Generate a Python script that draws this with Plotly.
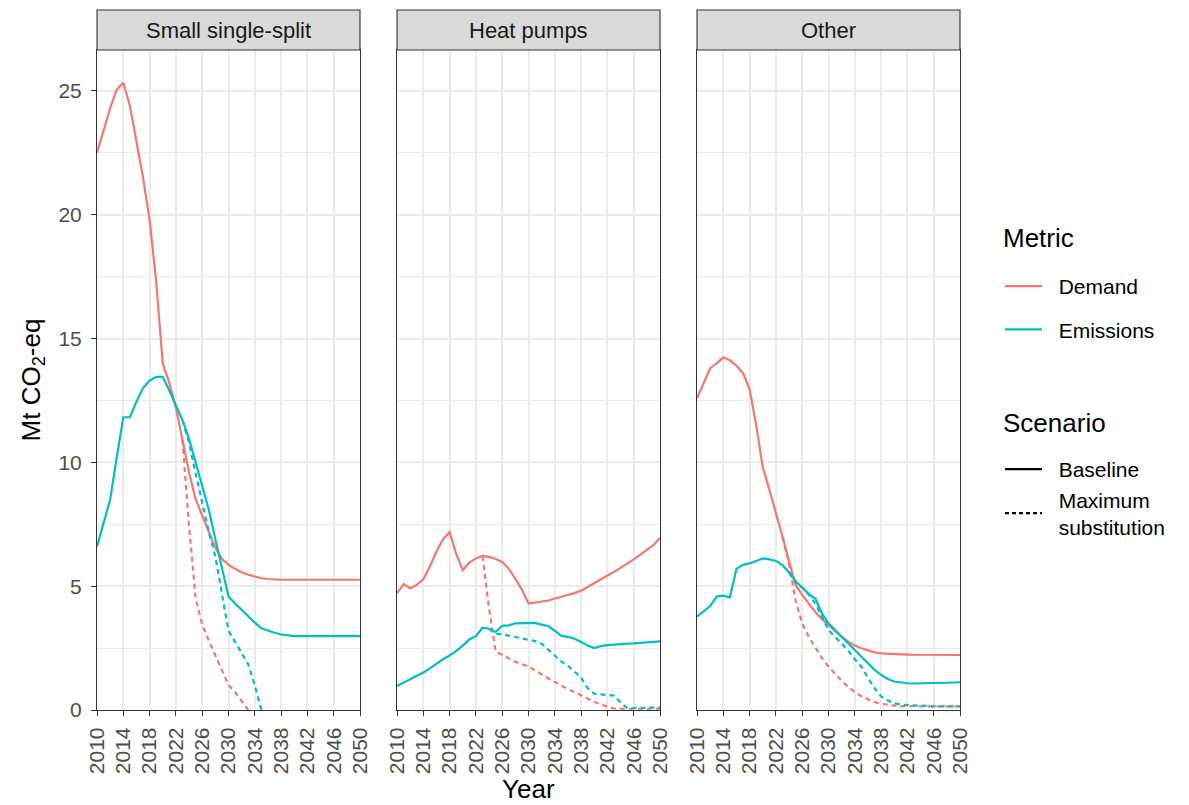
import plotly.graph_objects as go

# ---------------- data ----------------
years = list(range(2010, 2051))
panels = ["Small single-split", "Heat pumps", "Other"]
x_ticks = list(range(2010, 2051, 4))
x_tick_labels = [str(v) for v in x_ticks]
y_ticks = [0, 5, 10, 15, 20, 25]
y_tick_labels = ["0", "5", "10", "15", "20", "25"]

# Small single-split
ss_demand_base = [22.5, 23.4, 24.3, 25.05, 25.33, 24.4, 23.0, 21.5, 19.8, 17.3,
                  14.0, 13.2, 12.2, 10.9, 9.6, 8.5, 7.85, 7.2, 6.55, 6.1,
                  5.86, 5.7, 5.56, 5.46, 5.38, 5.32, 5.29, 5.27, 5.26, 5.26,
                  5.26, 5.26, 5.26, 5.26, 5.26, 5.26, 5.26, 5.26, 5.26, 5.26, 5.26]
ss_emis_base = [6.6, 7.6, 8.5, 10.2, 11.82, 11.82, 12.45, 13.0, 13.3, 13.45,
                13.45, 12.9, 12.3, 11.7, 10.95, 10.0, 9.1, 8.1, 6.9, 5.7,
                4.58, 4.3, 4.03, 3.78, 3.53, 3.3, 3.2, 3.12, 3.05, 3.0,
                2.98, 2.98, 2.98, 2.98, 2.98, 2.98, 2.98, 2.98, 2.98, 2.98, 2.98]
ss_demand_max_years = list(range(2023, 2034))
ss_demand_max = [10.9, 7.4, 4.5, 3.45, 2.8, 2.2, 1.55, 1.0, 0.72, 0.35, 0.0]
ss_emis_max_years = list(range(2023, 2036))
ss_emis_max = [11.7, 10.8, 9.55, 8.35, 7.2, 6.2, 4.7, 3.2, 2.75, 2.3, 1.85, 1.0, 0.0]

# Heat pumps
hp_demand_base = [4.71, 5.09, 4.91, 5.05, 5.28, 5.8, 6.4, 6.9, 7.18, 6.3,
                  5.65, 5.95, 6.12, 6.22, 6.18, 6.1, 5.98, 5.7, 5.3, 4.85,
                  4.3, 4.33, 4.37, 4.42, 4.5, 4.57, 4.64, 4.72, 4.82, 4.97,
                  5.1, 5.26, 5.42, 5.58, 5.74, 5.9, 6.08, 6.27, 6.46, 6.66, 6.95]
hp_emis_base = [0.97, 1.1, 1.24, 1.37, 1.51, 1.68, 1.88, 2.05, 2.2, 2.38,
                2.6, 2.85, 2.98, 3.32, 3.28, 3.15, 3.4, 3.42, 3.5, 3.5,
                3.52, 3.52, 3.45, 3.39, 3.2, 2.99, 2.95, 2.88, 2.75, 2.6,
                2.5, 2.58, 2.62, 2.65, 2.66, 2.68, 2.69, 2.71, 2.72, 2.75, 2.77]
hp_demand_max_years = list(range(2023, 2051))
hp_demand_max = [6.22, 4.1, 2.36, 2.22, 2.08, 1.95, 1.85, 1.75, 1.6, 1.43,
                 1.28, 1.13, 0.98, 0.84, 0.72, 0.58, 0.45, 0.33, 0.22, 0.13,
                 0.06, 0.05, 0.05, 0.05, 0.05, 0.05, 0.05, 0.05]
hp_emis_max_years = list(range(2024, 2051))
hp_emis_max = [3.28, 3.07, 3.06, 3.0, 2.95, 2.9, 2.85, 2.78, 2.68, 2.45,
               2.2, 1.95, 1.78, 1.55, 1.3, 0.88, 0.66, 0.63, 0.62, 0.58,
               0.3, 0.08, 0.08, 0.08, 0.09, 0.09, 0.1]

# Other
ot_demand_base = [12.59, 13.2, 13.8, 14.0, 14.24, 14.12, 13.9, 13.6, 12.95, 11.5,
                  9.8, 8.9, 8.0, 7.0, 6.0, 5.05, 4.65, 4.28, 3.95, 3.67,
                  3.43, 3.18, 2.95, 2.76, 2.6, 2.49, 2.4, 2.33, 2.29, 2.27,
                  2.26, 2.25, 2.24, 2.23, 2.23, 2.22, 2.22, 2.22, 2.22, 2.22, 2.22]
ot_emis_base = [3.77, 3.98, 4.2, 4.58, 4.62, 4.55, 5.7, 5.86, 5.92, 6.02,
                6.12, 6.08, 6.02, 5.85, 5.55, 5.2, 4.95, 4.68, 4.5, 3.9,
                3.5, 3.22, 2.95, 2.68, 2.42, 2.15, 1.88, 1.62, 1.42, 1.25,
                1.15, 1.1, 1.08, 1.07, 1.07, 1.08, 1.08, 1.09, 1.1, 1.11, 1.12]
ot_demand_max_years = list(range(2023, 2051))
ot_demand_max = [7.0, 5.9, 4.4, 3.5, 2.95, 2.5, 2.1, 1.75, 1.45, 1.18,
                 0.94, 0.72, 0.55, 0.42, 0.32, 0.25, 0.2, 0.18, 0.16, 0.15,
                 0.15, 0.15, 0.15, 0.15, 0.15, 0.15, 0.15, 0.15]
ot_emis_max_years = list(range(2024, 2051))
ot_emis_max = [5.55, 5.15, 4.95, 4.65, 4.3, 3.75, 3.23, 2.95, 2.68, 2.4,
               2.05, 1.75, 1.3, 0.88, 0.55, 0.38, 0.28, 0.22, 0.2, 0.18,
               0.17, 0.16, 0.15, 0.15, 0.15, 0.15, 0.15]

panel_data = [
    (ss_demand_base, ss_demand_max_years, ss_demand_max, ss_emis_base, ss_emis_max_years, ss_emis_max),
    (hp_demand_base, hp_demand_max_years, hp_demand_max, hp_emis_base, hp_emis_max_years, hp_emis_max),
    (ot_demand_base, ot_demand_max_years, ot_demand_max, ot_emis_base, ot_emis_max_years, ot_emis_max),
]

# ---------------- styling ----------------
RED = "#F8766D"
TEAL = "#00BFC4"
FONT = "Liberation Sans, Arial, sans-serif"
LW = 2.2
DASH = "5px,4px"
BORDER = "#333333"
GRID = "#EBEBEB"
NB = "\u00a0\u00a0"

# page body has an 8px margin; the figure is sized/offset to land on the target pixels
OFF = 8
W, H = 1189 - OFF, 805 - OFF
ML, MR, MT, MB = 97 - OFF, 229, 50 - OFF, 95
PW = W - ML - MR   # 863
PH = H - MT - MB   # 660
panel_px = [(0, 263), (300, 563), (600, 863)]


def px_x(X):  # absolute page x -> paper x
    return (X - 97) / PW


def px_y(Y):  # absolute page y -> paper y
    return (710 - Y) / PH


fig = go.Figure()

for i, (db, dmy, dm, eb, emy, em) in enumerate(panel_data):
    xa = "x" if i == 0 else f"x{i+1}"
    ya = "y" if i == 0 else f"y{i+1}"
    fig.add_trace(go.Scatter(x=years, y=db, mode="lines", line=dict(color=RED, width=LW),
                             xaxis=xa, yaxis=ya, showlegend=False, hoverinfo="skip"))
    fig.add_trace(go.Scatter(x=dmy, y=dm, mode="lines", line=dict(color=RED, width=LW, dash=DASH),
                             xaxis=xa, yaxis=ya, showlegend=False, hoverinfo="skip"))
    fig.add_trace(go.Scatter(x=years, y=eb, mode="lines", line=dict(color=TEAL, width=LW),
                             xaxis=xa, yaxis=ya, showlegend=False, hoverinfo="skip"))
    fig.add_trace(go.Scatter(x=emy, y=em, mode="lines", line=dict(color=TEAL, width=LW, dash=DASH),
                             xaxis=xa, yaxis=ya, showlegend=False, hoverinfo="skip"))

# legend entries
fig.add_trace(go.Scatter(x=[None], y=[None], mode="lines", name=NB + "Demand",
                         line=dict(color=RED, width=LW), legend="legend", legendgroup="d"))
fig.add_trace(go.Scatter(x=[None], y=[None], mode="lines", name=NB + "Emissions",
                         line=dict(color=TEAL, width=LW), legend="legend", legendgroup="e"))
fig.add_trace(go.Scatter(x=[None], y=[None], mode="lines", name=NB + "Baseline",
                         line=dict(color="black", width=LW), legend="legend2", legendgroup="b"))
fig.add_trace(go.Scatter(x=[None], y=[None], mode="lines", name=NB + "Maximum<br>" + NB + "substitution",
                         line=dict(color="black", width=LW, dash="4px,3px"), legend="legend2", legendgroup="m"))

layout = dict(
    width=W, height=H,
    margin=dict(l=ML, r=MR, t=MT, b=MB, pad=0),
    paper_bgcolor="white", plot_bgcolor="white",
    font=dict(family=FONT, color="#1A1A1A"),
    showlegend=True,
)

for i in range(3):
    sx = "" if i == 0 else str(i + 1)
    d0, d1 = panel_px[i]
    layout[f"xaxis{sx}"] = dict(
        domain=[d0 / PW, d1 / PW], anchor=f"y{sx}", range=[2010, 2050],
        tickmode="array", tickvals=x_ticks, ticktext=x_tick_labels, tickangle=-90,
        ticks="outside", ticklen=5, tickwidth=1.1, tickcolor=BORDER, ticklabelstandoff=3,
        tickfont=dict(size=21, color="#4D4D4D", family=FONT),
        showgrid=True, gridcolor=GRID, gridwidth=1.8,
        showline=True, mirror=True, linecolor=BORDER, linewidth=1.1,
        zeroline=False, fixedrange=True,
    )
    layout[f"yaxis{sx}"] = dict(
        domain=[0, 1], anchor=f"x{sx}", range=[0, 26.65],
        tickmode="array", tickvals=y_ticks, ticktext=y_tick_labels,
        ticks="outside" if i == 0 else "", ticklen=5, tickwidth=1.1, tickcolor=BORDER,
        ticklabelstandoff=5,
        showticklabels=(i == 0),
        tickfont=dict(size=21, color="#4D4D4D", family=FONT),
        showgrid=True, gridcolor=GRID, gridwidth=1.8,
        minor=dict(tickmode="array", tickvals=[2.5, 7.5, 12.5, 17.5, 22.5],
                   showgrid=True, gridcolor=GRID, gridwidth=1.2),
        showline=True, mirror=True, linecolor=BORDER, linewidth=1.1,
        zeroline=False, fixedrange=True,
    )

layout["yaxis"]["title"] = dict(text="Mt CO<sub>2</sub>-eq", font=dict(size=26, color="black", family=FONT),
                                standoff=10)

layout["legend"] = dict(
    x=px_x(1000), xanchor="left", y=px_y(266), yanchor="top",
    font=dict(size=21, color="black", family=FONT),
    tracegroupgap=13, itemwidth=37, bgcolor="rgba(0,0,0,0)", traceorder="grouped",
)
layout["legend2"] = dict(
    x=px_x(1000), xanchor="left", y=px_y(449), yanchor="top",
    font=dict(size=21, color="black", family=FONT),
    tracegroupgap=0, itemwidth=37, bgcolor="rgba(0,0,0,0)", traceorder="grouped",
)

shapes = []
annotations = []
strip_h = 40 / PH
for i, name in enumerate(panels):
    xr = "x domain" if i == 0 else f"x{i+1} domain"
    shapes.append(dict(type="rect", xref=xr, yref="paper", x0=0, x1=1, y0=1, y1=1 + strip_h,
                       fillcolor="#D9D9D9", line=dict(color=BORDER, width=1.1), layer="above"))
    annotations.append(dict(text=name, xref=xr, yref="paper", x=0.5, y=1 + strip_h / 2,
                            xanchor="center", yanchor="middle", showarrow=False,
                            font=dict(size=22, color="#1A1A1A", family=FONT)))

annotations.append(dict(text="Year", xref="paper", yref="paper", x=0.5, y=px_y(789),
                        xanchor="center", yanchor="middle", showarrow=False,
                        font=dict(size=26, color="black", family=FONT)))
annotations.append(dict(text="Metric", xref="paper", yref="paper", x=px_x(1001), y=px_y(238),
                        xanchor="left", yanchor="middle", showarrow=False,
                        font=dict(size=26, color="black", family=FONT)))
annotations.append(dict(text="Scenario", xref="paper", yref="paper", x=px_x(1001), y=px_y(423),
                        xanchor="left", yanchor="middle", showarrow=False,
                        font=dict(size=26, color="black", family=FONT)))

layout["shapes"] = shapes
layout["annotations"] = annotations

fig.update_layout(**layout)
fig.write_html("out.html")
